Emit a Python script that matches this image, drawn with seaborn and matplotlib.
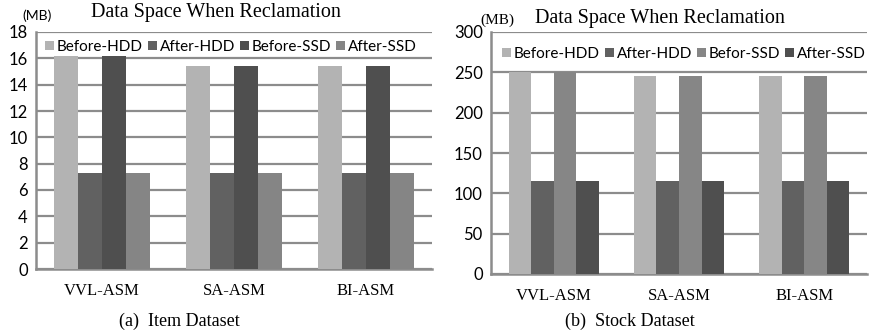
import matplotlib
matplotlib.use("Agg")
import matplotlib.pyplot as plt
import seaborn as sns
import pandas as pd
from matplotlib.patches import Patch

categories = ["VVL-ASM", "SA-ASM", "BI-ASM"]

left_series = ["Before-HDD", "After-HDD", "Before-SSD", "After-SSD"]
left_before_hdd = [16.2, 15.4, 15.4]
left_after_hdd = [7.3, 7.3, 7.3]
left_before_ssd = [16.2, 15.4, 15.4]
left_after_ssd = [7.3, 7.3, 7.3]
left_colors = ["#b3b3b3", "#616161", "#4f4f4f", "#858585"]
left_yticks = [0, 2, 4, 6, 8, 10, 12, 14, 16, 18]

right_series = ["Before-HDD", "After-HDD", "Befor-SSD", "After-SSD"]
right_before_hdd = [250, 246, 246]
right_after_hdd = [115, 115, 115]
right_befor_ssd = [250, 246, 246]
right_after_ssd = [115, 115, 115]
right_colors = ["#b3b3b3", "#616161", "#868686", "#4f4f4f"]
right_yticks = [0, 50, 100, 150, 200, 250, 300]

title = "Data Space When Reclamation"

sns.set_style("white")
SANS = ["Lato", "DejaVu Sans"]
SERIF = ["Liberation Serif", "DejaVu Serif"]
plt.rcParams["font.family"] = SANS
plt.rcParams["text.color"] = "black"

fig = plt.figure(figsize=(8.73, 3.33), dpi=100)
axL = fig.add_axes([36/873, 1-269/333, 396/873, 237/333])
axR = fig.add_axes([491/873, 1-274/333, 376/873, 242/333])

def build(series, arrays):
    rows = []
    for s, vals in zip(series, arrays):
        for c, v in zip(categories, vals):
            rows.append({"method": c, "series": s, "value": v})
    return pd.DataFrame(rows)

def draw(ax, series, arrays, colors, yticks, legend_y, legend_x):
    df = build(series, arrays)
    sns.barplot(data=df, x="method", y="value", hue="series", hue_order=series,
                palette=colors, width=0.72, gap=0, ax=ax, legend=False,
                linewidth=0, saturation=1, errorbar=None, zorder=3)
    ax.set_ylim(yticks[0], yticks[-1])
    ax.set_yticks(yticks)
    ax.set_xlim(-0.5, 2.5)
    ax.yaxis.grid(True, color="#8c8c8c", linewidth=1.6, zorder=0)
    ax.set_axisbelow(True)
    for s in ["top", "right"]:
        ax.spines[s].set_visible(False)
    for s in ["left", "bottom"]:
        ax.spines[s].set_color("#8c8c8c")
        ax.spines[s].set_linewidth(1.8)
    ax.tick_params(axis="both", length=0, pad=6, labelcolor="black")
    for lab in ax.get_yticklabels():
        lab.set_fontsize(12)
        lab.set_family(SANS)
    for lab in ax.get_xticklabels():
        lab.set_fontsize(12)
        lab.set_family(SERIF)
    ax.tick_params(axis="x", pad=10)
    ax.set_xlabel("")
    ax.set_ylabel("")
    handles = [Patch(facecolor=c, edgecolor="none", label=s) for s, c in zip(series, colors)]
    ax.legend(handles=handles, loc="center", bbox_to_anchor=(legend_x, legend_y),
              bbox_transform=fig.transFigure, ncol=4, frameon=False,
              handlelength=0.6, handleheight=0.6, handletextpad=0.2,
              columnspacing=0.3, fontsize=11, borderpad=0, borderaxespad=0)

draw(axL, left_series, [left_before_hdd, left_after_hdd, left_before_ssd, left_after_ssd],
     left_colors, left_yticks, 1-47/333, 231/873)
draw(axR, right_series, [right_before_hdd, right_after_hdd, right_befor_ssd, right_after_ssd],
     right_colors, right_yticks, 1-54/333, 684/873)

fig.text(216/873, 1-13/333, title, ha="center", va="center", family=SERIF, fontsize=14.5)
fig.text(660/873, 1-18/333, title, ha="center", va="center", family=SERIF, fontsize=14.5)
fig.text(22/873, 1-16/333, "(MB)", ha="left", va="center", family=SANS, fontsize=10)
fig.text(480/873, 1-20/333, "(MB)", ha="left", va="center", family=SERIF, fontsize=11)
fig.text(179/873, 1-321/333, "(a)  Item Dataset", ha="center", va="center", family=SERIF, fontsize=13)
fig.text(630/873, 1-321/333, "(b)  Stock Dataset", ha="center", va="center", family=SERIF, fontsize=13)

fig.savefig("out.png", dpi=100)
